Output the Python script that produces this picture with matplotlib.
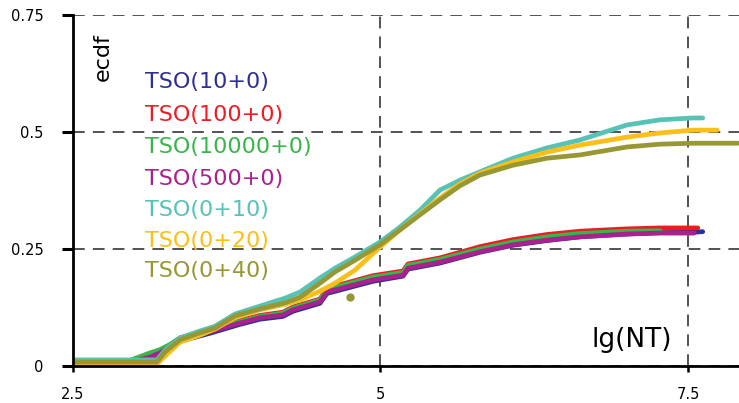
import numpy as np
import matplotlib.pyplot as plt

# ecdf values, x = lg(NT)
x_low = [2.5, 2.963, 3.126, 3.207, 3.289, 3.37, 3.614, 3.858, 4.02, 4.207, 4.289, 4.508,
         4.565, 4.939, 5.183, 5.224, 5.484, 5.809, 6.077, 6.354, 6.622, 7.004, 7.272, 7.55]
y_blue = [0.006, 0.006, 0.016, 0.025, 0.038, 0.053, 0.07, 0.089, 0.1, 0.106, 0.117, 0.134,
          0.155, 0.181, 0.192, 0.207, 0.22, 0.243, 0.258, 0.268, 0.276, 0.282, 0.285, 0.286]
y_red = [0.0085, 0.0085, 0.022, 0.032, 0.045, 0.06, 0.078, 0.097, 0.108, 0.115, 0.126, 0.143,
         0.166, 0.193, 0.203, 0.218, 0.231, 0.255, 0.27, 0.281, 0.288, 0.293, 0.295, 0.295]
y_green = [0.0085, 0.012, 0.028, 0.035, 0.046, 0.06, 0.077, 0.095, 0.106, 0.113, 0.124, 0.141,
           0.164, 0.19, 0.2, 0.215, 0.228, 0.25, 0.265, 0.276, 0.283, 0.288, 0.289, 0.289]
y_magenta = [0.0085, 0.0085, 0.019, 0.028, 0.041, 0.056, 0.073, 0.092, 0.103, 0.109, 0.12, 0.137,
             0.158, 0.184, 0.194, 0.209, 0.222, 0.244, 0.259, 0.269, 0.276, 0.282, 0.284, 0.284]
blue_end = [7.62, 0.287]
red_end = [7.58, 0.295]

x_top = [2.5, 3.183, 3.248, 3.37, 3.533, 3.654, 3.817, 4.02, 4.224, 4.346, 4.508, 4.63, 4.793,
         4.996, 5.159, 5.321, 5.484, 5.646, 5.809, 6.077, 6.354, 6.622, 7.004, 7.272, 7.541]
y_teal = [0.013, 0.013, 0.034, 0.06, 0.075, 0.085, 0.111, 0.128, 0.145, 0.158, 0.188, 0.209, 0.233,
          0.265, 0.297, 0.333, 0.376, 0.397, 0.415, 0.444, 0.466, 0.483, 0.515, 0.526, 0.53]
y_yellow = [0.004, 0.004, 0.021, 0.051, 0.066, 0.079, 0.103, 0.12, 0.132, 0.141, 0.16, 0.177, 0.205,
            0.254, 0.291, 0.325, 0.359, 0.389, 0.412, 0.436, 0.457, 0.472, 0.489, 0.498, 0.504]
y_olive = [0.0085, 0.0085, 0.03, 0.056, 0.071, 0.081, 0.107, 0.122, 0.135, 0.147, 0.177, 0.201, 0.226,
           0.259, 0.291, 0.323, 0.355, 0.385, 0.408, 0.429, 0.444, 0.451, 0.468, 0.474, 0.476]
teal_end = [7.62, 0.53]
yellow_end = [7.736, 0.504]
olive_end = [7.907, 0.476]
olive_dot = [4.75, 0.147]

labels = ["TSO(10+0)", "TSO(100+0)", "TSO(10000+0)", "TSO(500+0)", "TSO(0+10)", "TSO(0+20)", "TSO(0+40)"]
colors = ["#2e3192", "#ed1c24", "#39b54a", "#a9218e", "#57c2b6", "#fbbf1a", "#979734"]
label_y = [0.594, 0.524, 0.455, 0.387, 0.321, 0.254, 0.19]

fig = plt.figure(figsize=(7.39, 4.03), dpi=100)
ax = fig.add_axes([0.0988, 0.0918, 0.9012, 0.871])

lw = 3.4
ax.plot(x_low + [blue_end[0]], y_blue + [blue_end[1]], color=colors[0], lw=lw, solid_capstyle='round')
ax.plot(x_low + [red_end[0]], y_red + [red_end[1]], color=colors[1], lw=lw, solid_capstyle='round')
ax.plot(x_low[:-1], y_green[:-1], color=colors[2], lw=lw, solid_capstyle='round')
ax.plot(x_low, y_magenta, color=colors[3], lw=lw, solid_capstyle='round')
ax.plot(x_top + [teal_end[0]], y_teal + [teal_end[1]], color=colors[4], lw=lw, solid_capstyle='round')
ax.plot(x_top + [yellow_end[0]], y_yellow + [yellow_end[1]], color=colors[5], lw=lw, solid_capstyle='round')
ax.plot(x_top + [olive_end[0]], y_olive + [olive_end[1]], color=colors[6], lw=lw, solid_capstyle='round')
ax.plot(olive_dot[0], olive_dot[1], 'o', color=colors[6], ms=5)

for lab, c, yy in zip(labels, colors, label_y):
    ax.text(3.085, yy, lab, color=c, fontsize=16, va='baseline', ha='left')

ax.text(2.744, 0.66, "ecdf", rotation=90, fontsize=16, ha='center', va='center')
ax.text(7.04, 0.056, "lg(NT)", fontsize=19, ha='center', va='center')

ax.set_xlim(2.5, 7.915)
ax.set_ylim(0, 0.75)
ax.set_xticks([2.5, 5, 7.5])
ax.set_xticklabels(["2.5", "5", "7.5"])
ax.set_yticks([0, 0.25, 0.5, 0.75])
ax.set_yticklabels(["0", "0.25", "0.5", "0.75"])
ax.tick_params(axis='x', length=4, width=1.8, pad=11, labelsize=10.5)
ax.tick_params(axis='y', length=8, width=2.2, pad=13, labelsize=10.5)

for s in ['top', 'right']:
    ax.spines[s].set_visible(False)
for s in ['left', 'bottom']:
    ax.spines[s].set_linewidth(2)
ax.spines['bottom'].set_zorder(5)
ax.spines['left'].set_zorder(5)

ax.set_axisbelow(True)
ax.grid(True, linestyle=(0, (6.5, 4.5)), color='#444444', lw=1.3)

plt.savefig('out.png', dpi=100)
